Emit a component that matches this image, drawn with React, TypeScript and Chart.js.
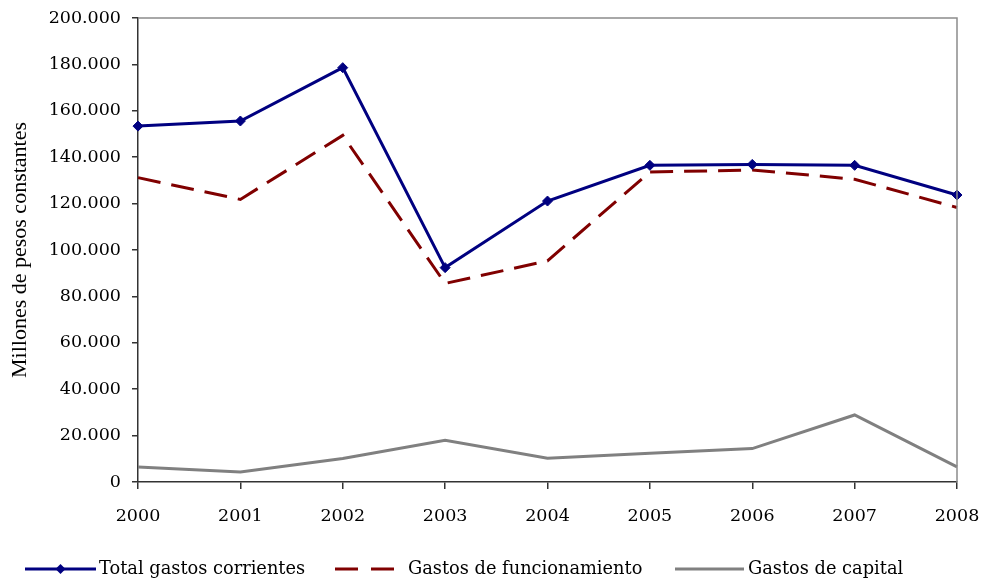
import React, { useEffect, useRef } from "react";
import { Chart, registerables } from "chart.js";

Chart.register(...registerables);

const years = ["2000", "2001", "2002", "2003", "2004", "2005", "2006", "2007", "2008"];
const totalGastosCorrientes = [153400, 155600, 178600, 92400, 121100, 136500, 136900, 136500, 123700];
const gastosFuncionamiento = [131200, 121800, 149400, 85600, 95300, 133600, 134500, 130500, 118300];
const gastosCapital = [6500, 4300, 10100, 18000, 10200, 12400, 14400, 28900, 6500];
const seriesNames = ["Total gastos corrientes", "Gastos de funcionamiento", "Gastos de capital"];
const yTitle = "Millones de pesos constantes";

const FONT = "'DejaVu Serif', serif";
const TITLE_FONT = "'Liberation Serif', serif";
const NAVY = "#000080";
const MAROON = "#800000";
const GRAY = "#808080";

function fmt(v: number): string {
  if (v === 0) return "0";
  const s = Math.round(v).toString();
  return s.replace(/\B(?=(\d{3})+(?!\d))/g, ".");
}

const framePlugin = {
  id: "frame",
  afterDatasetsDraw(chart: any) {
    const { ctx, chartArea } = chart;
    ctx.save();
    ctx.strokeStyle = "#8c8c8c";
    ctx.lineWidth = 1.5;
    ctx.beginPath();
    ctx.moveTo(chartArea.left, chartArea.top);
    ctx.lineTo(chartArea.right, chartArea.top);
    ctx.lineTo(chartArea.right, chartArea.bottom);
    ctx.stroke();
    ctx.restore();
  },
};

const legendPlugin = {
  id: "customLegend",
  afterDraw(chart: any) {
    const { ctx } = chart;
    const y = 569;
    const items = [
      { x1: 25, x2: 96, tx: 99, color: NAVY, dash: [] as number[], marker: true },
      { x1: 335, x2: 396, tx: 408, color: MAROON, dash: [23, 13], marker: false },
      { x1: 675, x2: 744, tx: 748, color: GRAY, dash: [] as number[], marker: false },
    ];
    ctx.save();
    items.forEach((it, i) => {
      ctx.strokeStyle = it.color;
      ctx.lineWidth = 3;
      ctx.setLineDash(it.dash);
      ctx.beginPath();
      ctx.moveTo(it.x1, y);
      ctx.lineTo(it.x2, y);
      ctx.stroke();
      ctx.setLineDash([]);
      if (it.marker) {
        const cx = (it.x1 + it.x2) / 2;
        ctx.fillStyle = it.color;
        ctx.beginPath();
        ctx.moveTo(cx, y - 5);
        ctx.lineTo(cx + 5, y);
        ctx.lineTo(cx, y + 5);
        ctx.lineTo(cx - 5, y);
        ctx.closePath();
        ctx.fill();
      }
      ctx.fillStyle = "#000";
      ctx.font = `17.8px ${FONT}`;
      ctx.textBaseline = "middle";
      ctx.textAlign = "left";
      ctx.fillText(seriesNames[i], it.tx, y);
    });
    ctx.restore();
  },
};

export default function App() {
  const ref = useRef<HTMLCanvasElement | null>(null);
  useEffect(() => {
    if (!ref.current) return;
    const chart = new Chart(ref.current, {
      type: "line",
      data: {
        labels: years,
        datasets: [
          {
            label: seriesNames[0],
            data: totalGastosCorrientes,
            borderColor: NAVY,
            backgroundColor: NAVY,
            borderWidth: 3,
            pointStyle: "rectRot",
            pointRadius: 5,
            pointBorderWidth: 1,
            tension: 0,
          },
          {
            label: seriesNames[1],
            data: gastosFuncionamiento,
            borderColor: MAROON,
            backgroundColor: MAROON,
            borderWidth: 3,
            borderDash: [23, 11],
            pointRadius: 0,
            tension: 0,
          },
          {
            label: seriesNames[2],
            data: gastosCapital,
            borderColor: GRAY,
            backgroundColor: GRAY,
            borderWidth: 3,
            pointRadius: 0,
            tension: 0,
          },
        ],
      },
      options: {
        animation: false,
        responsive: false,
        maintainAspectRatio: false,
        layout: { padding: { left: 0, top: 18, right: 27, bottom: 50 } },
        plugins: {
          legend: { display: false },
          tooltip: { enabled: false },
        },
        scales: {
          x: {
            offset: false,
            grid: { display: true, drawOnChartArea: false, drawTicks: true, tickLength: 7, color: "#333", lineWidth: 1.5 },
            border: { display: true, color: "#333", width: 1.5 },
            ticks: { color: "#000", font: { family: FONT, size: 17.5 }, padding: 17, maxRotation: 0 },
            afterFit: (s: any) => { s.height = 50; s.paddingLeft = 0; s.paddingRight = 0; },
          },
          y: {
            min: 0,
            max: 200000,
            grid: { display: true, drawOnChartArea: false, drawTicks: true, tickLength: 6, color: "#333", lineWidth: 1.5 },
            border: { display: true, color: "#333", width: 1.5 },
            ticks: {
              stepSize: 20000,
              color: "#000",
              padding: 11,
              font: { family: FONT, size: 17.5 },
              callback: (v: any) => fmt(Number(v)),
            },
            title: { display: true, text: yTitle, color: "#000", font: { family: TITLE_FONT, size: 22 }, padding: { top: 7, bottom: 0 } },
            afterFit: (s: any) => { s.width = 138; s.paddingTop = 0; s.paddingBottom = 0; },
          },
        },
      },
      plugins: [framePlugin, legendPlugin],
    });
    return () => chart.destroy();
  }, []);
  return (
    <div style={{ position: "absolute", left: 0, top: 0, width: 984, height: 582, background: "#fff" }}>
      <canvas ref={ref} width={984} height={582} style={{ width: 984, height: 582 }} />
    </div>
  );
}
